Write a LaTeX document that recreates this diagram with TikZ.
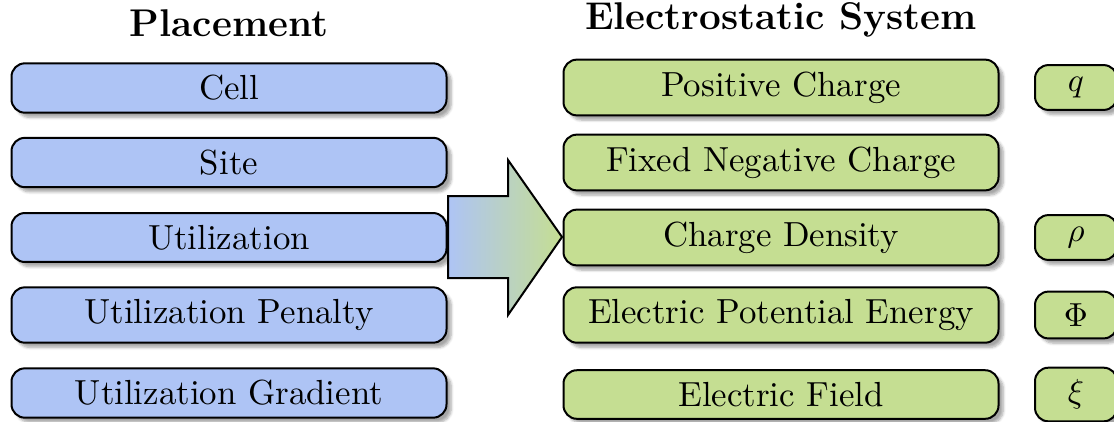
\documentclass[tikz,border=0pt]{standalone}
\usetikzlibrary{shadows.blur}
\definecolor{placeblue}{RGB}{174,196,245}
\definecolor{elecgreen}{RGB}{197,222,146}
\begin{document}
\begin{tikzpicture}[x=0.3pt,y=-0.3pt,
  font=\fontsize{10.45}{12.5}\selectfont,
  box/.style={draw=black, line width=0.6pt, rounded corners=4pt,
    inner ysep=3.6pt, inner xsep=2pt,
    blur shadow={shadow xshift=1.4pt, shadow yshift=-1.4pt,
      shadow blur radius=0.8pt, shadow blur steps=6, shadow opacity=35}},
  wide/.style={box, minimum width=130.5pt},
  leftbox/.style={wide, fill=placeblue},
  rightbox/.style={wide, fill=elecgreen},
  symbox/.style={box, fill=elecgreen, minimum width=24.6pt},
  heading/.style={font=\fontsize{11.6}{14}\selectfont\bfseries},
  bigarrow/.style={draw=black, line width=0.6pt, left color=placeblue, right color=elecgreen}]

\useasboundingbox (0,0) rectangle (1114,421);
\clip (0,0) rectangle (1114,421);

% column headings
\node[heading] (hplace) at (229,23) {Placement};
\node[heading] (helec)  at (781,20) {Electrostatic System};

% placement concepts
\node[leftbox] (cell)  at (229,88)    {Cell};
\node[leftbox] (site)  at (229,162.5) {Site};
\node[leftbox] (util)  at (229,237.5) {Utilization};
\node[leftbox] (pen)   at (229,315)   {Utilization Penalty};
\node[leftbox] (grad)  at (229,393)   {Utilization Gradient};

% electrostatic counterparts
\node[rightbox] (pos)   at (781,87.5)  {Positive Charge};
\node[rightbox] (neg)   at (781,162.5) {Fixed Negative Charge};
\node[rightbox] (dens)  at (781,237.5) {Charge Density};
\node[rightbox] (pot)   at (781,315)   {Electric Potential Energy};
\node[rightbox] (field) at (781,394.5) {Electric Field};

% symbols
\node[symbox] (sq)   at (1076,87.5)  {$q$};
\node[symbox] (srho) at (1076,237.5) {$\rho$};
\node[symbox] (sphi) at (1076,315)   {$\Phi$};
\node[symbox] (sxi)  at (1076,394.5) {$\xi$};

% mapping arrow
\draw[bigarrow] (448,196) -- (508,196) -- (508,160) -- (562,237)
  -- (508,315) -- (508,278) -- (448,278) -- cycle;
\end{tikzpicture}
\end{document}
